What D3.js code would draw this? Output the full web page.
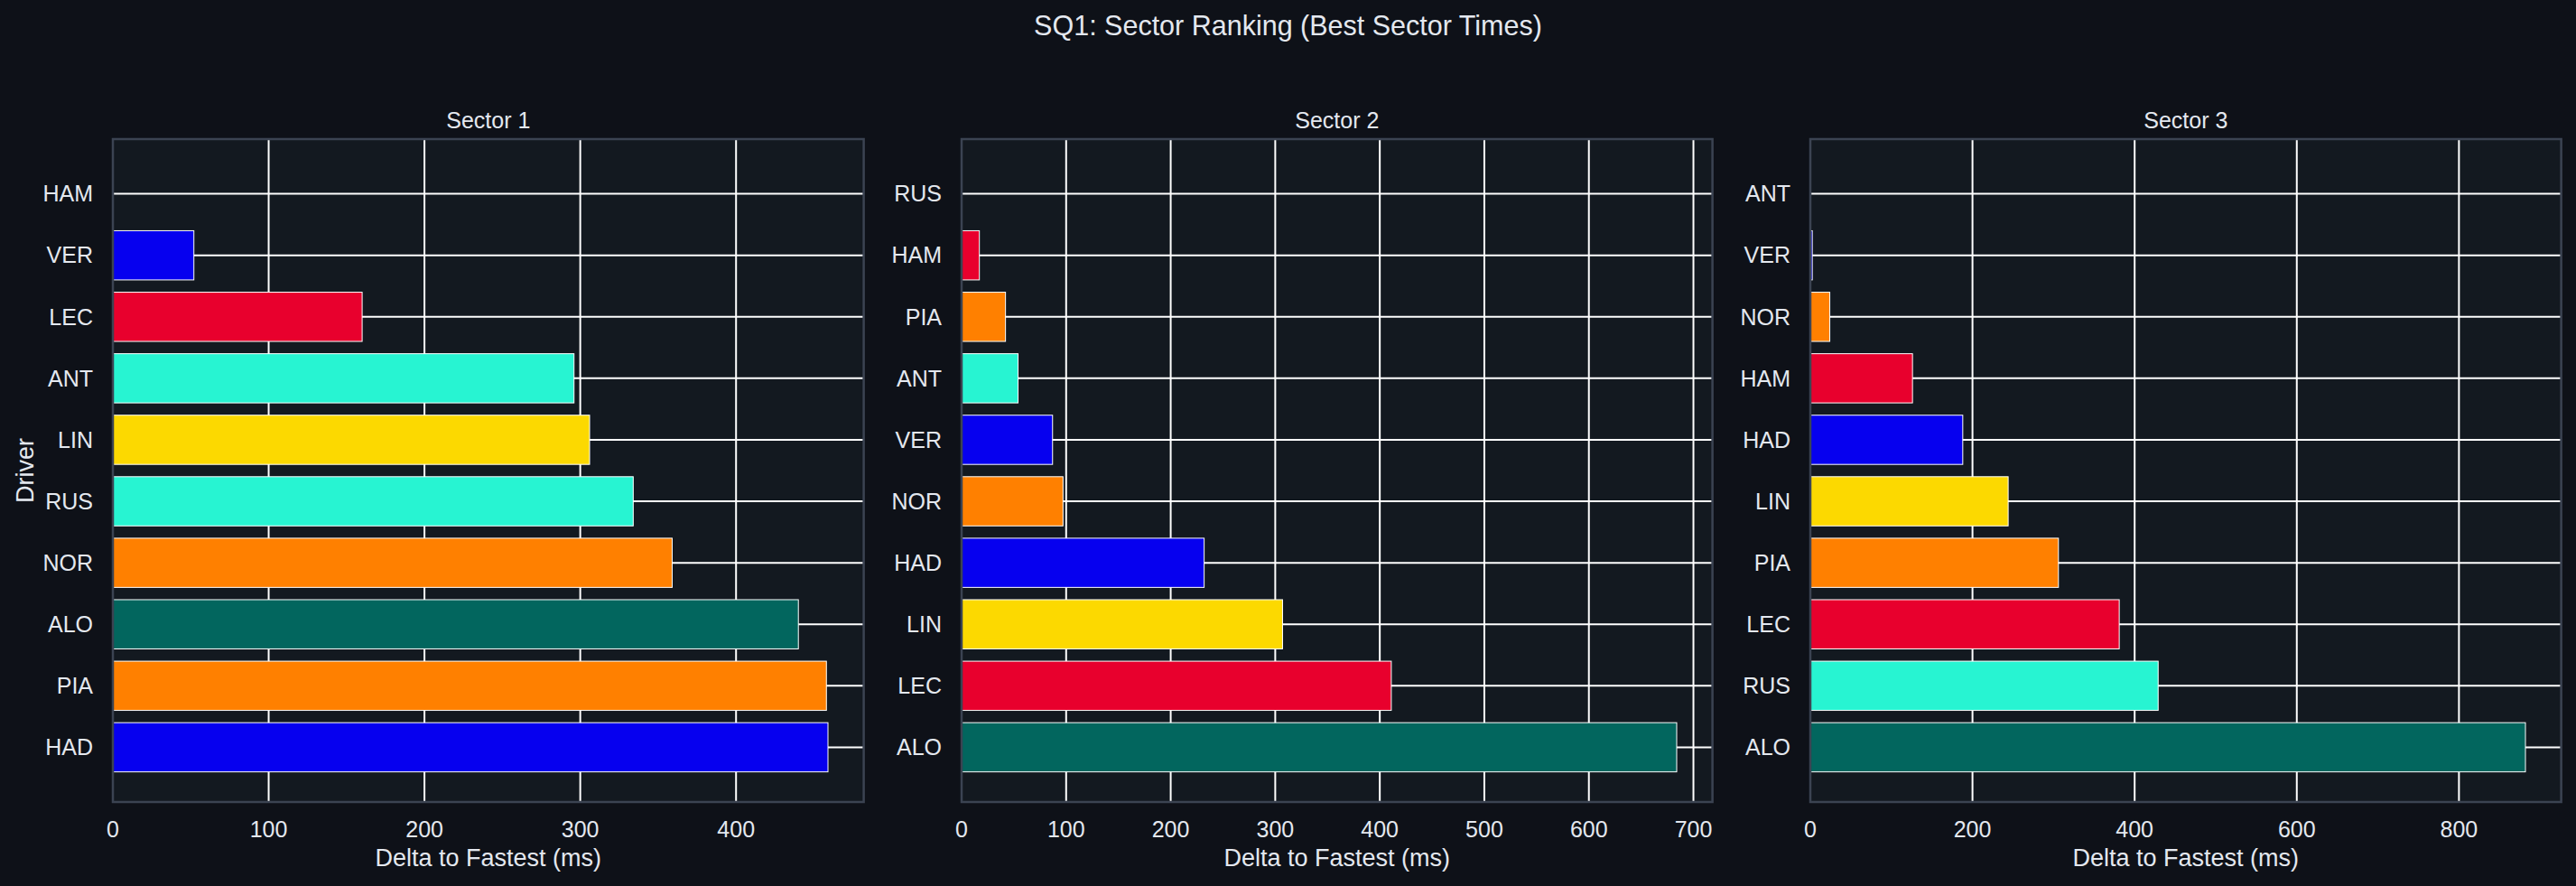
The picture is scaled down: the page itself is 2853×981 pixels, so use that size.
<!DOCTYPE html>
<html>
<head>
<meta charset="utf-8">
<script src="https://cdn.jsdelivr.net/npm/d3@7"></script>
<style>
  html, body { margin: 0; padding: 0; background: #0e1118; }
  svg { display: block; }
  text { font-family: "Liberation Sans", Arial, sans-serif; fill: #e4e8ef; }
</style>
</head>
<body>
<div id="chart"></div>
<script>
// ---- data (ms behind the fastest sector time) ----
var sectorTitles = ["Sector 1", "Sector 2", "Sector 3"];

var s1Drivers = ["HAM", "VER", "LEC", "ANT", "LIN", "RUS", "NOR", "ALO", "PIA", "HAD"];
var s1Delta   = [0, 52, 160, 296, 306, 334, 359, 440, 458, 459];
var s1Ticks   = [0, 100, 200, 300, 400];

var s2Drivers = ["RUS", "HAM", "PIA", "ANT", "VER", "NOR", "HAD", "LIN", "LEC", "ALO"];
var s2Delta   = [0, 17, 42, 54, 87, 97, 232, 307, 411, 684];
var s2Ticks   = [0, 100, 200, 300, 400, 500, 600, 700];

var s3Drivers = ["ANT", "VER", "NOR", "HAM", "HAD", "LIN", "PIA", "LEC", "RUS", "ALO"];
var s3Delta   = [0, 2.4, 24, 126, 188, 244, 306, 381, 429, 882];
var s3Ticks   = [0, 200, 400, 600, 800];

// team colours per driver
var driverColor = {
  VER: "#0600ef", HAD: "#0600ef",
  LEC: "#e8002d", HAM: "#e8002d",
  ANT: "#27f4d2", RUS: "#27f4d2",
  NOR: "#ff8000", PIA: "#ff8000",
  ALO: "#02665e",
  LIN: "#fcd900"
};

var W = 2853, H = 981;
var plotTop = 154, plotBottom = 888;
var plotW = 831.6, firstLeft = 125, panelStep = 940;

var svg = d3.select("#chart").append("svg")
    .attr("width", W)
    .attr("height", H);

svg.append("rect").attr("width", W).attr("height", H).attr("fill", "#0e1118");

svg.append("text")
    .attr("x", W / 2)
    .attr("y", 39)
    .attr("text-anchor", "middle")
    .style("font-size", "30.5px")
    .text("SQ1: Sector Ranking (Best Sector Times)");

var panels = [
  {drivers: s1Drivers, delta: s1Delta, ticks: s1Ticks},
  {drivers: s2Drivers, delta: s2Delta, ticks: s2Ticks},
  {drivers: s3Drivers, delta: s3Delta, ticks: s3Ticks}
];

panels.forEach(function(p, i) {
  var left = firstLeft + i * panelStep, right = left + plotW;
  var rows = p.drivers.map(function(d, j) { return {driver: d, value: p.delta[j]}; });

  // matplotlib-like 5% margin on the far end
  var x = d3.scaleLinear()
      .domain([0, d3.max(p.delta) * 1.05])
      .range([left, right]);

  var y = d3.scaleBand()
      .domain(p.drivers)
      .range([plotTop, plotBottom])
      .paddingInner(0.2)
      .paddingOuter(0.49);

  var g = svg.append("g");

  g.append("rect")
      .attr("x", left).attr("y", plotTop)
      .attr("width", plotW).attr("height", plotBottom - plotTop)
      .attr("fill", "#131920");

  // grid
  g.append("g").selectAll("line")
    .data(p.ticks)
    .enter().append("line")
      .attr("x1", function(d) { return x(d); })
      .attr("x2", function(d) { return x(d); })
      .attr("y1", plotTop).attr("y2", plotBottom)
      .attr("stroke", "#ffffff")
      .attr("stroke-width", 2);

  g.append("g").selectAll("line")
    .data(p.drivers)
    .enter().append("line")
      .attr("x1", left).attr("x2", right)
      .attr("y1", function(d) { return y(d) + y.bandwidth() / 2; })
      .attr("y2", function(d) { return y(d) + y.bandwidth() / 2; })
      .attr("stroke", "#ffffff")
      .attr("stroke-width", 2);

  // bars
  g.append("g").selectAll("rect")
    .data(rows)
    .enter().append("rect")
      .attr("x", x(0))
      .attr("y", function(d) { return y(d.driver); })
      .attr("width", function(d) { return x(d.value) - x(0); })
      .attr("height", y.bandwidth())
      .attr("fill", function(d) { return driverColor[d.driver]; })
      .attr("stroke", "#ffffff")
      .attr("stroke-width", 1);

  // spines
  g.append("rect")
      .attr("x", left).attr("y", plotTop)
      .attr("width", plotW).attr("height", plotBottom - plotTop)
      .attr("fill", "none")
      .attr("stroke", "#3b4352")
      .attr("stroke-width", 2.5);

  // tick labels
  g.append("g").selectAll("text")
    .data(p.ticks)
    .enter().append("text")
      .attr("x", function(d) { return x(d); })
      .attr("y", 927)
      .attr("text-anchor", "middle")
      .style("font-size", "25px")
      .text(function(d) { return d; });

  g.append("g").selectAll("text")
    .data(p.drivers)
    .enter().append("text")
      .attr("x", left - 22)
      .attr("y", function(d) { return y(d) + y.bandwidth() / 2; })
      .attr("dy", "0.35em")
      .attr("text-anchor", "end")
      .style("font-size", "25px")
      .text(function(d) { return d; });

  g.append("text")
      .attr("x", (left + right) / 2)
      .attr("y", 142)
      .attr("text-anchor", "middle")
      .style("font-size", "25px")
      .text(sectorTitles[i]);

  g.append("text")
      .attr("x", (left + right) / 2)
      .attr("y", 959)
      .attr("text-anchor", "middle")
      .style("font-size", "27px")
      .text("Delta to Fastest (ms)");

  if (i === 0) {
    g.append("text")
        .attr("transform", "translate(37," + (plotTop + plotBottom) / 2 + ")rotate(-90)")
        .attr("text-anchor", "middle")
        .style("font-size", "27px")
        .text("Driver");
  }
});
</script>
</body>
</html>
